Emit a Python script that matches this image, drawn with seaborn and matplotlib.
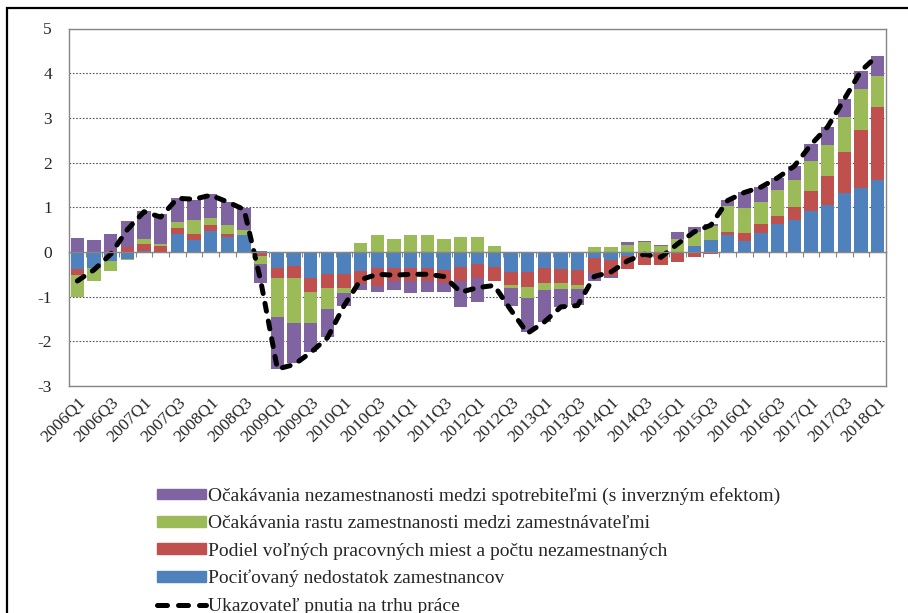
import numpy as np
import matplotlib.pyplot as plt
import seaborn as sns
from matplotlib.patches import Patch, Rectangle
from matplotlib.lines import Line2D

# quarters 2006Q1 .. 2018Q1
quarters = [f"{y}Q{q}" for y in range(2006, 2019) for q in range(1, 5)][:49]

# component contributions
shortage = [-0.38, -0.35, -0.20, -0.15, 0.02, -0.03, 0.40, 0.26, 0.47, 0.34, 0.38, 0.03,
            -0.37, -0.31, -0.59, -0.50, -0.50, -0.42, -0.35, -0.35, -0.37, -0.37, -0.41, -0.34,
            -0.27, -0.33, -0.44, -0.45, -0.36, -0.38, -0.40, -0.14, -0.18, -0.10, 0.00, 0.00,
            0.00, 0.13, 0.27, 0.38, 0.25, 0.42, 0.62, 0.71, 0.92, 1.05, 1.33, 1.42, 1.60]
vacancies = [-0.13, -0.02, 0.03, 0.10, 0.15, 0.14, 0.14, 0.14, 0.14, 0.06, 0.00, -0.09,
             -0.22, -0.28, -0.31, -0.31, -0.31, -0.30, -0.42, -0.30, -0.27, -0.27, -0.29, -0.30,
             -0.31, -0.31, -0.31, -0.33, -0.33, -0.32, -0.33, -0.33, -0.35, -0.28, -0.30, -0.30,
             -0.22, -0.12, -0.04, 0.06, 0.17, 0.20, 0.19, 0.30, 0.45, 0.65, 0.91, 1.30, 1.65]
employers = [-0.49, -0.28, -0.23, -0.03, 0.13, 0.04, 0.14, 0.32, 0.14, 0.20, 0.12, -0.19,
             -0.87, -0.99, -0.68, -0.47, -0.11, 0.19, 0.37, 0.30, 0.37, 0.39, 0.30, 0.34,
             0.33, 0.13, -0.06, -0.26, -0.16, -0.14, -0.09, 0.10, 0.10, 0.16, 0.23, 0.14,
             0.29, 0.31, 0.30, 0.59, 0.57, 0.50, 0.57, 0.60, 0.66, 0.70, 0.79, 0.93, 0.68]
consumers = [0.32, 0.27, 0.37, 0.60, 0.61, 0.66, 0.53, 0.45, 0.55, 0.51, 0.48, -0.42,
             -1.17, -0.91, -0.65, -0.63, -0.30, -0.13, -0.13, -0.20, -0.27, -0.26, -0.19, -0.59,
             -0.54, -0.02, -0.41, -0.76, -0.72, -0.39, -0.37, -0.19, -0.05, 0.07, 0.02, 0.01,
             0.15, 0.11, 0.05, 0.13, 0.36, 0.33, 0.28, 0.31, 0.38, 0.39, 0.39, 0.41, 0.46]
tension = [-0.65, -0.40, -0.05, 0.50, 0.90, 0.78, 1.20, 1.18, 1.27, 1.12, 0.95, -0.65,
           -2.62, -2.52, -2.25, -1.92, -1.20, -0.62, -0.50, -0.52, -0.50, -0.50, -0.55, -0.90,
           -0.80, -0.75, -1.30, -1.82, -1.57, -1.23, -1.20, -0.55, -0.45, -0.20, -0.05, -0.12,
           0.18, 0.45, 0.60, 1.15, 1.33, 1.45, 1.66, 1.92, 2.40, 2.80, 3.42, 4.05, 4.40]

labels = {
    "shortage": "Pociťovaný nedostatok zamestnancov",
    "vacancies": "Podiel voľných pracovných miest a počtu nezamestnaných",
    "employers": "Očakávania rastu zamestnanosti medzi zamestnávateľmi",
    "consumers": "Očakávania nezamestnanosti medzi spotrebiteľmi (s inverzným efektom)",
    "tension": "Ukazovateľ pnutia na trhu práce",
}
colors = {"shortage": "#4F81BD", "vacancies": "#C0504D",
          "employers": "#9BBB59", "consumers": "#8064A2"}

sns.set_style("white")
plt.rcParams["font.family"] = ["Liberation Serif", "DejaVu Serif"]
plt.rcParams["axes.unicode_minus"] = False
grey = "#868686"

fig, ax = plt.subplots(figsize=(9.08, 6.13), dpi=100)
fig.subplots_adjust(left=69 / 908, right=886 / 908, top=1 - 28.5 / 613, bottom=1 - 386 / 613)

# stacked bars: positives pile up, negatives pile down (Excel style)
n = len(quarters)
pos = np.zeros(n)
neg = np.zeros(n)
for key, vals in [("shortage", shortage), ("vacancies", vacancies),
                  ("employers", employers), ("consumers", consumers)]:
    v = np.array(vals)
    bottom = np.where(v >= 0, pos, neg)
    sns.barplot(x=quarters, y=v, bottom=bottom, color=colors[key], saturation=1,
                width=0.8, linewidth=0, errorbar=None, ax=ax)
    pos += np.where(v >= 0, v, 0)
    neg += np.where(v < 0, v, 0)

sns.lineplot(x=np.arange(n), y=tension, color="black", linewidth=3.6, ax=ax)
line = ax.lines[-1]
line.set_dashes((1.6, 2.0))
line.set_dash_capstyle("round")

ax.set_xlim(-0.5, n - 0.5)
ax.set_ylim(-3, 5)
ax.set_yticks(range(-3, 6))
ax.set_xticks(range(0, n, 2))
ax.set_xticklabels(quarters[::2], rotation=45, ha="right", rotation_mode="anchor")
ax.set_xlabel("")
ax.set_ylabel("")
ax.tick_params(axis="x", length=0, pad=6, labelsize=12.5)
ax.tick_params(axis="y", direction="out", length=4.3, width=0.8, color=grey, pad=8, labelsize=12.5)
ax.set_axisbelow(True)
ax.yaxis.grid(True, linestyle=(0, (1.5, 1.5)), color="#595959", linewidth=0.8)
for s in ax.spines.values():
    s.set_visible(True)
    s.set_color(grey)
    s.set_linewidth(1)

# category axis crossing at zero
sec = ax.secondary_xaxis(3 / 8)
sec.set_xticks(np.arange(-0.5, n, 1))
sec.set_xticklabels([])
sec.tick_params(direction="out", length=3.6, width=0.8, color=grey)
sec.spines["bottom"].set_color(grey)
sec.spines["bottom"].set_linewidth(1)
sec.set_zorder(3)

line_handle = Line2D([], [], color="black", linewidth=3.6, dashes=(2.0, 2.2),
                     dash_capstyle="round")
handles = [Patch(color=colors["consumers"]), Patch(color=colors["employers"]),
           Patch(color=colors["vacancies"]), Patch(color=colors["shortage"]), line_handle]
names = [labels["consumers"], labels["employers"], labels["vacancies"],
         labels["shortage"], labels["tension"]]
fig.legend(handles, names, loc="upper left", bbox_to_anchor=(157 / 908, 1 - 487 / 613),
           frameon=False, fontsize=14, handlelength=2.5, handleheight=0.45,
           handletextpad=0.1, labelspacing=0.53, borderpad=0, borderaxespad=0)

# outer chart frame
fig.patches.append(Rectangle((7 / 908, -0.1), 1.2, 1.1 - 8.5 / 613, transform=fig.transFigure,
                             fill=False, edgecolor="black", linewidth=1.6))

fig.savefig("out.png", dpi=100)
